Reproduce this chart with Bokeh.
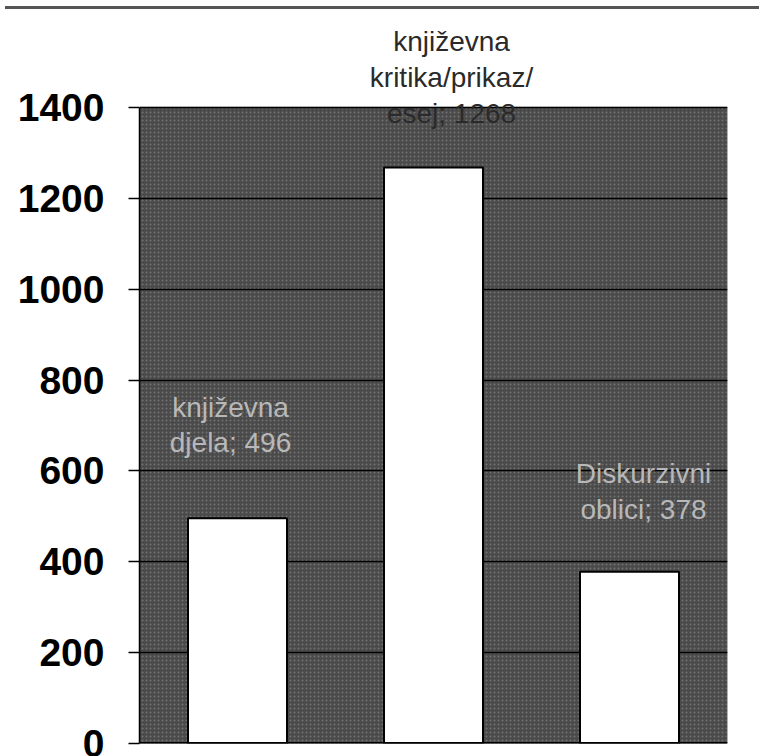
from bokeh.plotting import figure
from bokeh.models import Range1d, FactorRange, FixedTicker, Label, Span, BoxAnnotation, Div
from bokeh.layouts import column
from bokeh.embed import file_html
from bokeh.resources import INLINE

# ---- data ----
categories = ["književna djela", "književna kritika/prikaz/esej", "Diskurzivni oblici"]
label_lines = ["književna\ndjela", "književna\nkritika/prikaz/\nesej", "Diskurzivni\noblici"]
values = [496, 1268, 378]
y_ticks = [0, 200, 400, 600, 800, 1000, 1200, 1400]

FONT = "Liberation Sans"

# geometry (pixels)
W, H = 754, 744
B_LEFT, B_RIGHT, B_TOP, B_BOTTOM = 139, 27, 10, 15
FRAME_PX = H - B_TOP - B_BOTTOM
GREY_PX = 636
y_end = y_ticks[-1] * FRAME_PX / GREY_PX

p = figure(
    x_range=FactorRange(*categories, range_padding=0),
    y_range=Range1d(0, y_end),
    width=W, height=H,
    min_border_left=B_LEFT, min_border_right=B_RIGHT,
    min_border_top=B_TOP, min_border_bottom=B_BOTTOM,
    output_backend="svg", toolbar_location=None,
)

p.background_fill_color = "white"
p.border_fill_color = "white"
p.outline_line_color = None

# grey scanned plot area with speckle texture
area = BoxAnnotation(bottom=y_ticks[0], top=y_ticks[-1],
                     fill_color="#4a4a4a", fill_alpha=1,
                     line_color="black", line_width=1.5,
                     hatch_pattern="dot", hatch_color="white",
                     hatch_alpha=0.22, hatch_scale=4, hatch_weight=1,
                     level="image")
p.add_layout(area)

p.vbar(x=categories, top=values, width=0.505, fill_color="white",
       line_color="black", line_width=2)

# axes
p.xaxis.visible = False
p.xgrid.grid_line_color = None
p.ygrid.grid_line_color = "black"
p.ygrid.grid_line_width = 1.5
p.ygrid.ticker = FixedTicker(ticks=y_ticks)
p.yaxis.ticker = FixedTicker(ticks=y_ticks)
p.yaxis.bounds = (y_ticks[0], y_ticks[-1])
p.yaxis.axis_line_color = "black"
p.yaxis.axis_line_width = 1.5
p.yaxis.major_tick_out = 11
p.yaxis.major_tick_in = 0
p.yaxis.minor_tick_line_color = None
p.yaxis.major_tick_line_width = 1.5
p.yaxis.major_label_standoff = 24
p.yaxis.major_label_text_font = FONT
p.yaxis.major_label_text_font_style = "bold"
p.yaxis.major_label_text_font_size = "39px"
p.yaxis.major_label_text_color = "black"

p.add_layout(Span(location=0, dimension="width", line_color="black", line_width=3))

# data labels
x_off = [-7, 18, 14]
y_off = [93, 90, 80]
colors = ["#b8b8b8", "#2a2a2a", "#b8b8b8"]
for i, (lines, v) in enumerate(zip(label_lines, values)):
    p.add_layout(Label(
        x=i + 0.5, y=v, x_offset=x_off[i], y_offset=y_off[i],
        text=f"{lines}; {v}", text_align="center", text_baseline="middle",
        text_font=FONT, text_font_size="28px", text_color=colors[i],
        text_line_height=1.15,
    ))

top_line = Div(text="", width=W, height=4,
               styles={"border-bottom": "3px solid #555555", "box-sizing": "border-box"})

layout = column(top_line, p, spacing=0)
open("out.html", "w").write(file_html(layout, INLINE))
